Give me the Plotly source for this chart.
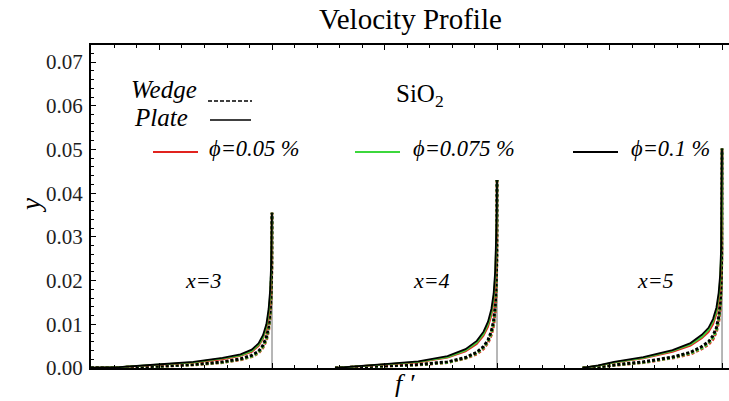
import plotly.graph_objects as go

# Velocity profiles of SiO2 nanofluid: y versus f' for x = 3, 4, 5,
# each profile drawn in its own horizontal slot (offset x - 3).
stations = [3, 4, 5]
phi_labels = ["ϕ=0.05 %", "ϕ=0.075 %", "ϕ=0.1 %"]
phi_colors = ["rgb(225,35,30)", "rgb(60,215,60)", "rgb(0,0,0)"]

fp_x3 = [0.15, 0.32, 0.49, 0.65, 0.78, 0.86, 0.91, 0.94, 0.96, 0.975, 0.985, 0.992, 0.996, 0.999, 1.0]
fp_x4 = [0.28, 0.40, 0.50, 0.65, 0.78, 0.86, 0.91, 0.94, 0.96, 0.975, 0.985, 0.992, 0.996, 0.999, 1.0]
fp_x5 = [0.38, 0.45, 0.52, 0.65, 0.78, 0.86, 0.91, 0.94, 0.96, 0.975, 0.985, 0.992, 0.996, 0.999, 1.0]

# Plate (solid) profiles, phi = 0.05, 0.075, 0.1 %
plate_x3 = [
    [0, 0.00018, 0.0007, 0.00125, 0.0020, 0.0028, 0.0037, 0.0050, 0.0067, 0.0089, 0.0120, 0.0161, 0.0214, 0.0284, 0.0355],
    [0, 0.00019, 0.00075, 0.0013, 0.0022, 0.0029, 0.0039, 0.0053, 0.0070, 0.0094, 0.0127, 0.0170, 0.0224, 0.0292, 0.0355],
    [0, 0.0002, 0.0008, 0.0014, 0.0023, 0.0031, 0.0042, 0.0056, 0.0075, 0.0100, 0.0135, 0.0180, 0.0235, 0.0300, 0.0355],
]
plate_x4 = [
    [0, 0.00036, 0.0008, 0.0013, 0.0024, 0.0038, 0.0055, 0.0074, 0.0094, 0.0120, 0.0152, 0.0200, 0.0256, 0.0335, 0.0430],
    [0, 0.00038, 0.00085, 0.0014, 0.0025, 0.0040, 0.0058, 0.0078, 0.0100, 0.0127, 0.0161, 0.0211, 0.0268, 0.0345, 0.0430],
    [0, 0.0004, 0.0009, 0.0015, 0.0027, 0.0043, 0.0062, 0.0083, 0.0106, 0.0135, 0.0170, 0.0222, 0.0280, 0.0355, 0.0430],
]
plate_x5 = [
    [0, 0.00053, 0.00125, 0.0022, 0.0037, 0.0051, 0.0068, 0.0082, 0.0100, 0.0123, 0.0154, 0.0195, 0.0252, 0.0348, 0.0502],
    [0, 0.00056, 0.0013, 0.0023, 0.0039, 0.0054, 0.0071, 0.0087, 0.0106, 0.0130, 0.0163, 0.0205, 0.0263, 0.0358, 0.0502],
    [0, 0.0006, 0.0014, 0.0025, 0.0041, 0.0057, 0.0076, 0.0092, 0.0112, 0.0138, 0.0172, 0.0215, 0.0275, 0.0370, 0.0502],
]

# Wedge (dotted) profiles, phi = 0.05, 0.075, 0.1 %
wedge_x3 = [
    [0, 0.00009, 0.00036, 0.00072, 0.00125, 0.0019, 0.0026, 0.0034, 0.0047, 0.0063, 0.0086, 0.0118, 0.0157, 0.0225, 0.0355],
    [0, 0.0001, 0.00038, 0.00076, 0.0013, 0.0020, 0.0027, 0.0036, 0.0049, 0.0066, 0.0090, 0.0124, 0.0163, 0.0232, 0.0355],
    [0, 0.0001, 0.0004, 0.0008, 0.0014, 0.0021, 0.0029, 0.0038, 0.0052, 0.0070, 0.0095, 0.0130, 0.0170, 0.0240, 0.0355],
]
wedge_x4 = [
    [0, 0.00018, 0.00045, 0.00072, 0.00125, 0.0022, 0.0032, 0.0044, 0.0058, 0.0076, 0.0098, 0.0130, 0.0171, 0.0244, 0.0430],
    [0, 0.00019, 0.00047, 0.00076, 0.0013, 0.0023, 0.0034, 0.0047, 0.0061, 0.0080, 0.0103, 0.0136, 0.0178, 0.0252, 0.0430],
    [0, 0.0002, 0.0005, 0.0008, 0.0014, 0.0024, 0.0036, 0.0049, 0.0064, 0.0084, 0.0108, 0.0142, 0.0185, 0.0260, 0.0430],
]
wedge_x5 = [
    [0, 0.00018, 0.00063, 0.00125, 0.0023, 0.0032, 0.0044, 0.0054, 0.0066, 0.0083, 0.0105, 0.0135, 0.0175, 0.0254, 0.0502],
    [0, 0.00019, 0.00066, 0.0013, 0.0024, 0.0034, 0.0046, 0.0057, 0.0070, 0.0087, 0.0110, 0.0141, 0.0182, 0.0262, 0.0502],
    [0, 0.0002, 0.0007, 0.0014, 0.0025, 0.0036, 0.0049, 0.0060, 0.0074, 0.0092, 0.0116, 0.0148, 0.0190, 0.0270, 0.0502],
]

y_ticks = [0.0, 0.01, 0.02, 0.03, 0.04, 0.05, 0.06, 0.07]

FONT = "'Times New Roman', 'Liberation Serif', 'DejaVu Serif', serif"
W, H = 729, 401
ML, MR, MT, MB = 91, 0, 45, 33


def px_x(px):
    return (px - ML) / (W - ML - MR)


def px_y(py):
    return (H - MB - py) / (H - MT - MB)


panels = [
    (3, fp_x3, plate_x3, wedge_x3),
    (4, fp_x4, plate_x4, wedge_x4),
    (5, fp_x5, plate_x5, wedge_x5),
]

fig = go.Figure()

for station, fp, plate, wedge in panels:
    shift = station - stations[0]
    xs = [f + shift for f in fp]
    # thin guide line at f' = 1
    fig.add_trace(go.Scatter(
        x=[1 + shift, 1 + shift], y=[0, plate[2][-1]], mode="lines",
        line=dict(color="rgb(110,110,110)", width=1), showlegend=False,
        hoverinfo="skip"))
    for ys, col in zip(wedge, phi_colors):
        fig.add_trace(go.Scatter(
            x=xs, y=ys, mode="lines",
            line=dict(color=col, width=3, dash="3px,2px"),
            showlegend=False))
    for ys, col in zip(plate, phi_colors):
        fig.add_trace(go.Scatter(
            x=xs, y=ys, mode="lines",
            line=dict(color=col, width=1.8),
            showlegend=False))

annotations = []
shapes = []


def text(px, py, s, size, italic=False, anchor="left"):
    annotations.append(dict(
        x=px_x(px), y=px_y(py), xref="paper", yref="paper",
        text=s, showarrow=False,
        xanchor=anchor, yanchor="middle",
        font=dict(family=FONT, size=size, color="black",
                  style="italic" if italic else "normal")))


def seg(x0, x1, py, color, width, dash="solid"):
    shapes.append(dict(
        type="line", xref="paper", yref="paper",
        x0=px_x(x0), x1=px_x(x1), y0=px_y(py), y1=px_y(py),
        line=dict(color=color, width=width, dash=dash)))


# title and axis labels
text(411, 19, "Velocity Profile", 29, anchor="center")
text(405, 384, "f ′", 26, italic=True, anchor="center")
annotations.append(dict(
    x=px_x(31), y=px_y(206), xref="paper", yref="paper", text="y",
    showarrow=False, textangle=-90, xanchor="center", yanchor="middle",
    font=dict(family=FONT, size=27, color="black", style="italic")))

# line-style key
text(129, 89, "Wedge", 25, italic=True)
seg(208, 252, 101, "black", 1.4, "4px,2px")
text(132, 117, "Plate", 25, italic=True)
seg(210, 251, 120, "black", 1.6)

# material label
text(420, 95, "SiO<sub>2</sub>", 25, anchor="center")

# volume-fraction key
key_pos = [(153, 198, 207), (355, 400, 411), (573, 618, 629)]
for (lx0, lx1, tx), lab, col in zip(key_pos, phi_labels, phi_colors):
    seg(lx0, lx1, 152, col, 1.8)
    text(tx, 148, lab, 22.5, italic=True)

# station labels
for station, cx in zip(stations, [203, 431, 655]):
    text(cx, 280, "x=" + str(station), 22, italic=True, anchor="center")

fig.update_layout(
    width=W, height=H,
    margin=dict(l=ML, r=MR, t=MT, b=MB),
    paper_bgcolor="white", plot_bgcolor="white",
    showlegend=False,
    font=dict(family=FONT),
    annotations=annotations, shapes=shapes,
    xaxis=dict(
        range=[0.1956, 3.031], showgrid=False, zeroline=False,
        showline=True, linecolor="black", linewidth=2, mirror="ticks",
        ticks="inside", ticklen=5, tickwidth=1.2, tickcolor="black",
        tick0=0, dtick=0.5, showticklabels=False,
        minor=dict(dtick=0.1, ticks="inside", ticklen=3, tickcolor="black", tickwidth=1),
    ),
    yaxis=dict(
        range=[0, 0.0739], showgrid=False, zeroline=False,
        showline=True, linecolor="black", linewidth=2,
        ticks="inside", ticklen=5, tickwidth=1.2, tickcolor="black",
        tickvals=y_ticks, ticktext=[f"{v:.2f}" for v in y_ticks],
        tickfont=dict(family=FONT, size=21, color="rgb(30,30,30)"),
        ticklabelstandoff=2,
        minor=dict(dtick=0.002, ticks="inside", ticklen=3, tickcolor="black", tickwidth=1),
    ),
)

fig.write_html("out.html")
